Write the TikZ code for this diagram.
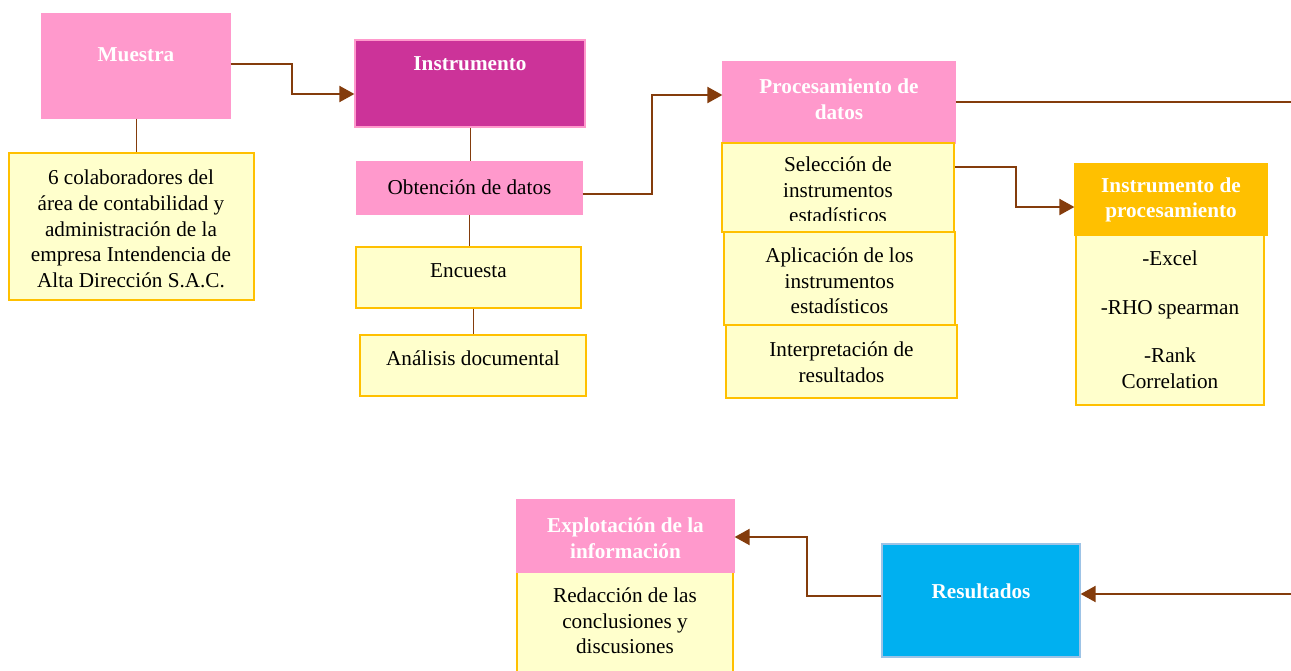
\documentclass[tikz,border=0pt]{standalone}
\usepackage{fontspec}
\setmainfont{Liberation Serif}
\usetikzlibrary{arrows.meta}

\definecolor{rosa}{HTML}{FF99CC}
\definecolor{magenta}{HTML}{CC3399}
\definecolor{crema}{HTML}{FFFFCC}
\definecolor{oro}{HTML}{FFC000}
\definecolor{celeste}{HTML}{00B0F0}
\definecolor{celesteborde}{HTML}{9DC3E6}
\definecolor{cafe}{HTML}{843C0C}

\tikzset{
  caja/.style={inner sep=0pt, line width=1.2pt},
  rosabox/.style={caja, fill=rosa, draw=rosa},
  cremabox/.style={caja, fill=crema, draw=oro},
  texto/.style={align=center, inner sep=0pt, font=\fontsize{21.2}{25.7}\selectfont},
  titulo/.style={texto, text=white, font=\fontsize{21.2}{25.7}\selectfont\bfseries},
  flecha/.style={draw=cafe, line width=2pt, -{Triangle[length=15pt,width=16pt]}},
  linea/.style={draw=cafe, line width=2pt},
  union/.style={draw=cafe, line width=1pt}
}

\begin{document}
\begin{tikzpicture}[x=1pt,y=-1pt]

    \useasboundingbox (0,0) rectangle (1291,670);

    % Muestra
    \node [rosabox, minimum width=188pt, minimum height=104pt] (muestra) at (136,66) {};
    \node [titulo] (muestra-t) at (136,55) {Muestra};
    \node [cremabox, minimum width=245pt, minimum height=147pt] (colab) at (131.5,226.5) {};
    \node [texto] (colab-t) at (131,229) {6 colaboradores del\\ área de contabilidad y\\ administración de la\\ empresa Intendencia de\\ Alta Dirección S.A.C.};
    \draw [union] (muestra.south) -- (muestra.south |- colab.north);

    % Instrumento
    \node [caja, fill=magenta, draw=rosa, minimum width=230pt, minimum height=87pt] (instr) at (470,83.5) {};
    \node [titulo] (instr-t) at (470,64) {Instrumento};
    \node [rosabox, minimum width=225pt, minimum height=52pt] (obt) at (469.5,188) {};
    \node [texto] (obt-t) at (469.5,187) {Obtención de datos};
    \node [cremabox, minimum width=225pt, minimum height=61pt] (enc) at (468.5,277.5) {};
    \node [texto] (enc-t) at (468.5,271) {Encuesta};
    \node [cremabox, minimum width=226pt, minimum height=61pt] (analisis) at (473,365.5) {};
    \node [texto] (analisis-t) at (473,358) {Análisis documental};
    \draw [union] (instr.south) -- (instr.south |- obt.north);
    \draw [union] (obt.south) -- (obt.south |- enc.north);
    \draw [union] (analisis.north |- enc.south) -- (analisis.north);

    % Procesamiento de datos
    \node [rosabox, minimum width=232pt, minimum height=81pt] (proc) at (839,102.5) {};
    \node [titulo] (proc-t) at (839,99.5) {Procesamiento de\\ datos};
    \node [cremabox, minimum width=232pt, minimum height=89pt] (sel) at (838,187.5) {};
    \begin{scope}
        \clip (722,143) rectangle (955,220);
        \node [texto] (sel-t) at (838,190) {Selección de\\ instrumentos\\ estadísticos};
    \end{scope}
    \node [cremabox, minimum width=231pt, minimum height=93pt] (apl) at (839.5,278.5) {};
    \node [texto] (apl-t) at (839.5,281) {Aplicación de los\\ instrumentos\\ estadísticos};
    \node [cremabox, minimum width=231pt, minimum height=73pt] (interp) at (841.5,361.5) {};
    \node [texto] (interp-t) at (841.5,362) {Interpretación de\\ resultados};

    % Instrumento de procesamiento
    \node [cremabox, minimum width=188pt, minimum height=170pt] (iproc-b) at (1170,320) {};
    \node [caja, fill=oro, draw=oro, minimum width=192pt, minimum height=71pt] (iproc) at (1171,199.5) {};
    \node [titulo] (iproc-t) at (1171,200) {Instrumento de\\ procesamiento};
    \node [texto] (iproc-b-t) at (1170,320) {-Excel\\[22.5pt] -RHO spearman\\[23pt] -Rank\\ Correlation};

    % Resultados y explotación
    \node [caja, fill=celeste, draw=celesteborde, minimum width=198pt, minimum height=113pt] (result) at (981,600.5) {};
    \node [titulo] (result-t) at (981,591) {Resultados};
    \node [cremabox, minimum width=216pt, minimum height=120pt] (redac) at (625,632) {};
    \node [rosabox, minimum width=217pt, minimum height=72pt] (explot) at (625.5,536) {};
    \node [titulo] (explot-t) at (625.5,538) {Explotación de la\\ información};
    \node [texto] (redac-t) at (625,621) {Redacción de las\\ conclusiones y\\ discusiones};

    % conectores
    \coordinate (bordeA) at (1291,102);
    \coordinate (bordeB) at (1291,594);
    \draw [flecha] (muestra.east |- 0,64) -- ++(61,0) |- (instr.west |- 0,94);
    \draw [flecha] (obt.east |- 0,194) -- ++(69,0) |- (proc.west |- 0,95);
    \draw [flecha] (sel.east |- 0,167) -- ++(61,0) |- (iproc.west |- 0,207);
    \draw [linea] (proc.east |- 0,102) -- (bordeA);
    \draw [flecha] (bordeB) -- (result.east |- 0,594);
    \draw [flecha] (result.west |- 0,596) -- ++(-74,0) |- (explot.east |- 0,537);

\end{tikzpicture}
\end{document}
